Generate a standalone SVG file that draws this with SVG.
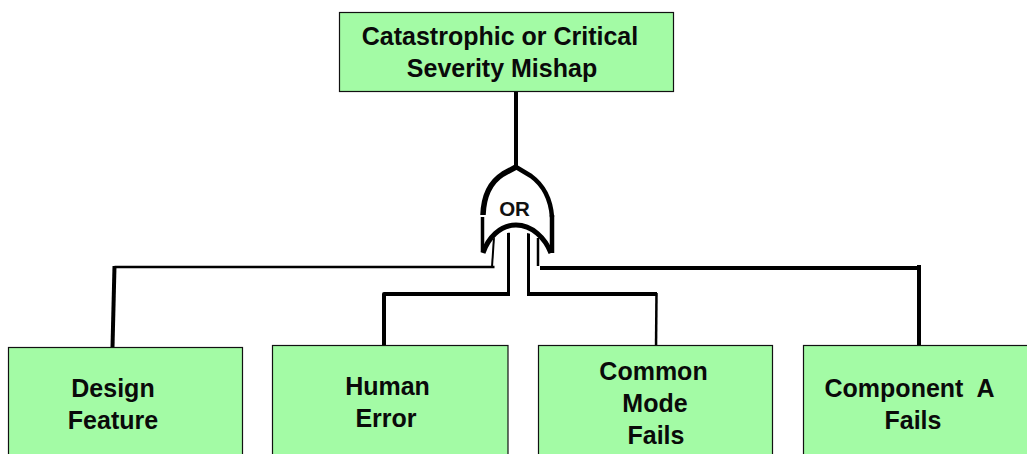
<svg xmlns="http://www.w3.org/2000/svg" width="1027" height="454" viewBox="0 0 1027 454">
<style>
.box{fill:#a3fba5;stroke:#111;stroke-width:1.2}
.t{font-family:"Liberation Sans",Arial,sans-serif;font-weight:700;font-size:25px;fill:#0a0a0a;text-anchor:middle}
.c{fill:none;stroke:#000;stroke-linecap:butt;stroke-linejoin:round}
</style>
<rect width="1027" height="454" fill="#fff"/>
<g id="connectors">
<path class="c" stroke-width="4" d="M516 92V167"/>
<path class="c" stroke-width="2.500" d="M494.500 267H114.500"/>
<path class="c" stroke-width="4" d="M114.500 266L112.500 347"/>
<path class="c" stroke-width="2" d="M494 237L492 267"/>
<path class="c" stroke-width="3" d="M508.500 228V294"/>
<path class="c" stroke-width="4" d="M510 294H384V346"/>
<path class="c" stroke-width="3" d="M528.500 228V294"/>
<path class="c" stroke-width="4" d="M527 294H657"/>
<path class="c" stroke-width="2.500" d="M656.500 293L656 349"/>
<path class="c" stroke-width="2.500" d="M538 238V266"/>
<path class="c" stroke-width="4" d="M540 268H919"/>
<path class="c" stroke-width="4" d="M919 265V347"/>
</g>
<g id="node-top">
<rect class="box" x="339.500" y="12.500" width="334" height="79"/>
<text class="t" x="500" y="45">Catastrophic or Critical</text>
<text class="t" x="502" y="77">Severity Mishap</text>
</g>
<g id="gate-or">
<path fill="#fff" d="M483 250C483 215 486 186 516 168C546 186 552 215 552 250C540 226 495 226 483 250Z"/>
<path class="c" stroke-width="5.500" d="M516 167L503 174Q484 186 483 215"/>
<path class="c" stroke-width="4.500" d="M516 167L531 176Q550 190 552 217"/>
<path class="c" stroke-width="3.500" d="M482.500 217V252"/>
<path class="c" stroke-width="4.500" d="M552 215V253"/>
<path class="c" stroke-width="5" d="M483 253C488 238 500 225 516 225C532 225 545 238 551 253"/>
<text x="514.500" y="216" font-family="'Liberation Sans',Arial,sans-serif" font-weight="700" font-size="20.500" text-anchor="middle" fill="#111">OR</text>
</g>
<g id="node-design">
<rect class="box" x="8.500" y="347.500" width="234" height="120"/>
<text class="t" x="113" y="397">Design</text>
<text class="t" x="113" y="429">Feature</text>
</g>
<g id="node-human">
<rect class="box" x="272.500" y="345.500" width="235.500" height="120"/>
<text class="t" x="387.500" y="395">Human</text>
<text class="t" x="386" y="427">Error</text>
</g>
<g id="node-common">
<rect class="box" x="538.500" y="345.500" width="234" height="120"/>
<text class="t" x="653.500" y="380">Common</text>
<text class="t" x="655" y="412">Mode</text>
<text class="t" x="656" y="444">Fails</text>
</g>
<g id="node-component">
<rect class="box" x="803.500" y="345.500" width="234" height="120"/>
<text class="t" x="909.500" y="397" xml:space="preserve">Component  A</text>
<text class="t" x="913" y="429">Fails</text>
</g>
</svg>
